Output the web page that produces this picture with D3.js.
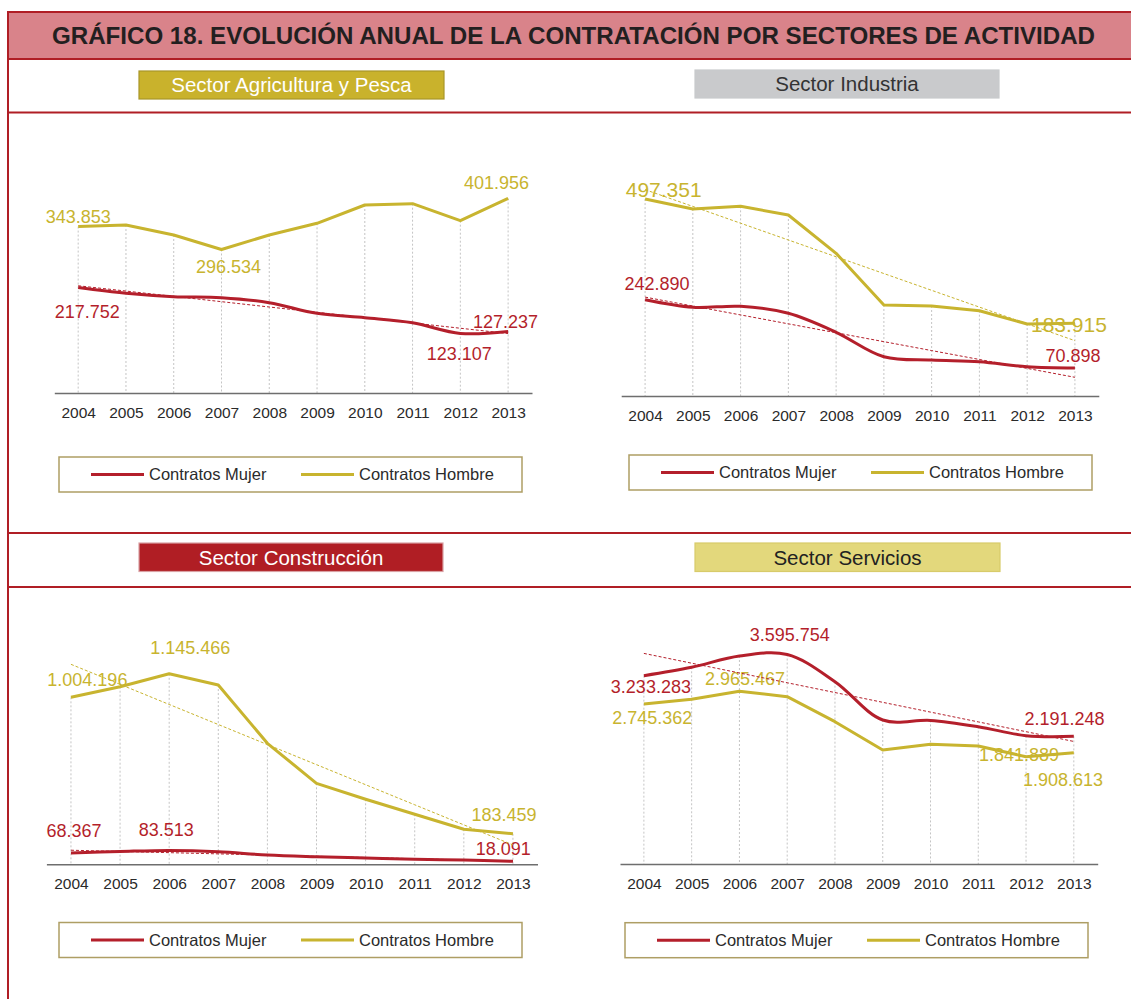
<!DOCTYPE html>
<html><head><meta charset="utf-8">
<script src="https://cdn.jsdelivr.net/npm/d3@7"></script>
<style>
body{margin:0;background:#fff;font-family:"Liberation Sans",Arial,Helvetica,sans-serif;}
svg{display:block}
</style>
</head><body>
<svg id="c" width="1131" height="999"></svg>
<script>
// ---------- DATA ----------
const years = ["2004","2005","2006","2007","2008","2009","2010","2011","2012","2013"];
const chartTitle = "GRÁFICO 18. EVOLUCIÓN ANUAL DE LA CONTRATACIÓN POR SECTORES DE ACTIVIDAD";
const sectorTitles = ["Sector Agricultura y Pesca", "Sector Industria", "Sector Construcción", "Sector Servicios"];
const seriesNames = ["Contratos Mujer", "Contratos Hombre"];

const agriMujer  = [217752, 206000, 199000, 197000, 186600, 164600, 155600, 145200, 123107, 127237];
const agriHombre = [343853, 347100, 326400, 296534, 326400, 350600, 388400, 391100, 356000, 401956];
const indMujer   = [242890, 224000, 226500, 208800, 160900, 99200, 90900, 86600, 74000, 70898];
const indHombre  = [497351, 472200, 479000, 457000, 360300, 229800, 227300, 215400, 181800, 183915];
const conMujer   = [68367, 77000, 83513, 75800, 56000, 45700, 37900, 30000, 25800, 18091];
const conHombre  = [1004196, 1068000, 1145466, 1078000, 727600, 487100, 390900, 300700, 210500, 183459];
const serMujer   = [3233283, 3377000, 3571000, 3595754, 3130000, 2472000, 2465000, 2357000, 2203000, 2191248];
const serHombre  = [2745362, 2828000, 2965467, 2873000, 2443000, 1957000, 2055000, 2026000, 1841889, 1908613];

// labelled points: [series, year index]
const agriLabels = [["h",0],["h",9],["h",3],["m",0],["m",8],["m",9]];
const indLabels  = [["h",0],["h",9],["m",0],["m",9]];
const conLabels  = [["h",2],["h",0],["h",9],["m",0],["m",2],["m",9]];
const serLabels  = [["m",3],["m",0],["h",2],["h",0],["m",9],["h",8],["h",9]];

// ---------- STYLE / LAYOUT ----------
const RED = "#B41F2B", YEL = "#C8B42F", BORDER = "#B01E25";
const locale = d3.formatLocale({decimal: ",", thousands: ".", grouping: [3], currency: ["", "€"]});
const fmt = locale.format(",d");

const svg = d3.select("#c");

// title band + frame lines
svg.append("rect").attr("x", 8).attr("y", 12).attr("width", 1123).attr("height", 47).attr("fill", "#D9838A");
[12, 59, 112.5, 533, 587].forEach(y => {
  svg.append("line").attr("x1", 8).attr("x2", 1131).attr("y1", y).attr("y2", y)
    .attr("stroke", BORDER).attr("stroke-width", 2);
});
svg.append("line").attr("x1", 8).attr("x2", 8).attr("y1", 11).attr("y2", 999)
  .attr("stroke", BORDER).attr("stroke-width", 2);
svg.append("text").attr("x", 52).attr("y", 44).attr("textLength", 1043).attr("lengthAdjust", "spacingAndGlyphs")
  .attr("font-family", "'Liberation Sans Narrow','Liberation Sans',Arial,sans-serif")
  .attr("font-weight", "bold").attr("font-size", 24).attr("fill", "#231F20").text(chartTitle);

const panels = [
  {title: sectorTitles[0], hdr: {x:139, y:71, w:305, h:28, fill:"#C9B22C", stroke:"#A99628", color:"#fff"},
   xr: [54.3, 532], y0: 393, yTop: 175.2, yMax: 450000, m: agriMujer, h: agriHombre, trendM: true, trendH: false,
   labels: agriLabels, offs: [[0,-10],[-11.5,-15.5],[7,17.5],[9,24],[-1,20],[-2.5,-9.5]], sizes: [18,18,18,18,18,18],
   tickPad: 14, leg: {x:59, y:457}},
  {title: sectorTitles[1], hdr: {x:695, y:70, w:304, h:28, fill:"#C9CACC", stroke:"#C9CACC", color:"#333"},
   xr: [621.2, 1098.8], y0: 396, yTop: 178.2, yMax: 550000, m: indMujer, h: indHombre, trendM: true, trendH: true,
   labels: indLabels, offs: [[18.6,-9.7],[-6,1],[12,-16],[-2,-12]], sizes: [21,21,18,18],
   tickPad: 13.5, leg: {x:629, y:455}},
  {title: sectorTitles[2], hdr: {x:139, y:543, w:304, h:28.5, fill:"#B01E24", stroke:"#D9A0A3", color:"#fff"},
   xr: [46.4, 537.5], y0: 864.3, yTop: 631.5, yMax: 1400000, m: conMujer, h: conHombre, trendM: true, trendH: true,
   labels: conLabels, offs: [[21,-26.5],[16.4,-17.3],[-9,-19.5],[3,-22],[-3,-21],[-9.6,-12.6]], sizes: [18,18,18,18,18,18],
   tickPad: 13.5, leg: {x:59, y:922.5}},
  {title: sectorTitles[3], hdr: {x:695, y:543, w:305, h:28.5, fill:"#E3D87C", stroke:"#D8CB6A", color:"#222"},
   xr: [620, 1097.7], y0: 864, yTop: 631, yMax: 4000000, m: serMujer, h: serHombre, trendM: true, trendH: false,
   labels: serLabels, offs: [[2.5,-19.6],[7,11],[5.6,-12.3],[8.3,13.2],[-9.4,-18],[-7,-1.7],[-10.8,27]], sizes: [18,18,18,18,18,18,18],
   tickPad: 13.8, leg: {x:625, y:922.7}}
];

function trend(vals) {
  const n = vals.length, mx = (n - 1) / 2, my = d3.mean(vals);
  let num = 0, den = 0;
  vals.forEach((v, i) => { num += (i - mx) * (v - my); den += (i - mx) * (i - mx); });
  const b = num / den, a = my - b * mx;
  return vals.map((v, i) => a + b * i);
}

panels.forEach(p => {
  const g = svg.append("g");
  // header box
  g.append("rect").attr("x", p.hdr.x).attr("y", p.hdr.y).attr("width", p.hdr.w).attr("height", p.hdr.h)
    .attr("fill", p.hdr.fill).attr("stroke", p.hdr.stroke).attr("stroke-width", 1.2);
  g.append("text").attr("x", p.hdr.x + p.hdr.w / 2).attr("y", p.hdr.y + p.hdr.h / 2 + 7.3)
    .attr("text-anchor", "middle").attr("font-size", 20.5).attr("fill", p.hdr.color).text(p.title);

  const x = d3.scalePoint().domain(years).range(p.xr).padding(0.5);
  const y = d3.scaleLinear().domain([0, p.yMax]).range([p.y0, p.yTop]);

  // drop lines
  g.selectAll(".drop").data(years).join("line")
    .attr("x1", d => x(d)).attr("x2", d => x(d))
    .attr("y1", (d, i) => y(Math.max(p.m[i], p.h[i]))).attr("y2", p.y0)
    .attr("stroke", "#C4C4C4").attr("stroke-width", 1).attr("stroke-dasharray", "2,2");

  // axis
  const ax = g.append("g").attr("transform", `translate(0,${p.y0})`)
    .call(d3.axisBottom(x).tickSize(0).tickSizeOuter(0).tickPadding(p.tickPad));
  ax.select(".domain").attr("stroke", "#6E6E6E").attr("stroke-width", 1.6);
  ax.selectAll("text").attr("font-size", 15.5).attr("fill", "#2a2a2a")
    .attr("font-family", "'Liberation Sans',Arial,sans-serif");

  // data labels
  p.labels.forEach((lb, k) => {
    const vals = lb[0] === "m" ? p.m : p.h;
    const i = lb[1];
    g.append("text").attr("x", x(years[i]) + p.offs[k][0]).attr("y", y(vals[i]) + p.offs[k][1])
      .attr("dy", "0.36em").attr("text-anchor", "middle").attr("font-size", p.sizes[k])
      .attr("fill", lb[0] === "m" ? RED : YEL).text(fmt(vals[i]));
  });

  // series
  const lineSmooth = d3.line().x((d, i) => x(years[i])).y(d => y(d)).curve(d3.curveCatmullRom.alpha(0.5));
  const lineStraight = d3.line().x((d, i) => x(years[i])).y(d => y(d));
  g.append("path").attr("d", lineStraight(p.h)).attr("fill", "none").attr("stroke", YEL).attr("stroke-width", 3)
    .attr("stroke-linejoin", "round");
  g.append("path").attr("d", lineSmooth(p.m)).attr("fill", "none").attr("stroke", RED).attr("stroke-width", 3);

  // trend lines
  if (p.trendH) g.append("path").attr("d", lineStraight(trend(p.h))).attr("fill", "none")
    .attr("stroke", YEL).attr("stroke-width", 1).attr("stroke-dasharray", "3,2");
  if (p.trendM) g.append("path").attr("d", lineStraight(trend(p.m))).attr("fill", "none")
    .attr("stroke", RED).attr("stroke-width", 1).attr("stroke-dasharray", "3,2");

  // legend
  const L = g.append("g").attr("transform", `translate(${p.leg.x},${p.leg.y})`);
  L.append("rect").attr("width", 463).attr("height", 35).attr("fill", "#fff")
    .attr("stroke", "#AE9E64").attr("stroke-width", 1.5);
  [[RED, 32, 90], [YEL, 242, 300]].forEach((it, j) => {
    L.append("line").attr("x1", it[1]).attr("x2", it[1] + 53).attr("y1", 17.5).attr("y2", 17.5)
      .attr("stroke", it[0]).attr("stroke-width", 3);
    L.append("text").attr("x", it[2]).attr("y", 17.5).attr("dy", "0.36em").attr("font-size", 16.5)
      .attr("fill", "#2b2b2b").text(seriesNames[j]);
  });
});
</script>
</body></html>
